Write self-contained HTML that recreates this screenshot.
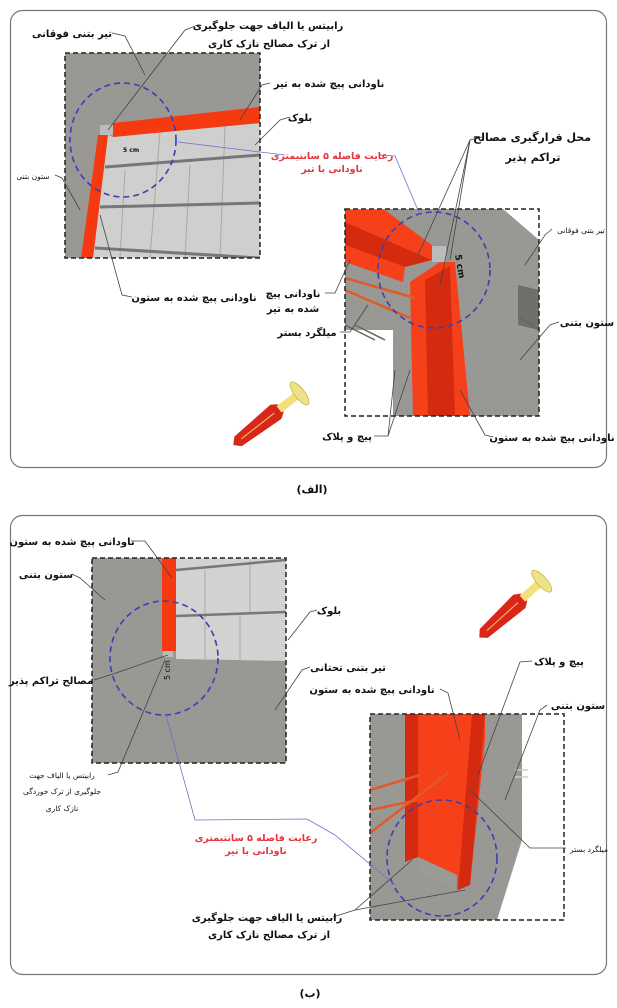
<!DOCTYPE html>
<html><head><meta charset="utf-8"><style>
html,body{margin:0;padding:0;background:#fff;}
svg{display:block;}
text{font-family:"DejaVu Sans","Liberation Sans",sans-serif;font-weight:bold;fill:#111;}
</style></head><body>
<svg width="617" height="1008" viewBox="0 0 617 1008" xmlns="http://www.w3.org/2000/svg">
<defs>
<filter id="nz" x="0" y="0" width="100%" height="100%" filterUnits="userSpaceOnUse">
<feTurbulence type="fractalNoise" baseFrequency="0.85" numOctaves="2" seed="3"/>
<feColorMatrix type="matrix" values="0 0 0 0 0.3  0 0 0 0 0.3  0 0 0 0 0.29  3.5 0 0 0 -1.55"/>
</filter>
<clipPath id="c1"><rect x="65" y="53" width="195" height="205"/></clipPath>
<clipPath id="c2"><polygon points="345,209 503,209 539,240 539,416 393,416 393,330 345,330"/></clipPath>
<clipPath id="c2b"><rect x="345" y="209" width="194" height="207"/></clipPath>
<clipPath id="c3"><rect x="92" y="558" width="194" height="205"/></clipPath>
<clipPath id="c4"><polygon points="370,714 522,714 522,840 497,920 370,920"/></clipPath>
<clipPath id="c4b"><rect x="370" y="714" width="194" height="206"/></clipPath>
</defs>

<rect x="10.5" y="10.5" width="596" height="457" rx="12" fill="#fff" stroke="#777" stroke-width="1.2"/>
<rect x="10.5" y="515.5" width="596" height="459" rx="12" fill="#fff" stroke="#777" stroke-width="1.2"/>

<!-- TOP LEFT BOX -->
<g clip-path="url(#c1)">
<rect x="65" y="53" width="195" height="205" fill="#9a9994"/>
<rect x="65" y="53" width="195" height="205" filter="url(#nz)"/>
<polygon points="108,135 113,137 260,123 260,258 93,258" fill="#cfcfcd"/>
<g stroke="#a9a9a7" stroke-width="1"><line x1="160" y1="132" x2="150" y2="258"/><line x1="225" y1="126" x2="220" y2="258"/><line x1="125" y1="170" x2="120" y2="258"/><line x1="190" y1="165" x2="185" y2="258"/></g>
<g stroke="#77777a" stroke-width="3"><line x1="105" y1="167" x2="260" y2="155"/><line x1="100" y1="207" x2="260" y2="203"/><line x1="95" y1="248" x2="260" y2="258"/></g>
<polygon points="113,123 260,107 260,123 113,137" fill="#f53a12"/>
<polygon points="98,135 108,135 93,258 81,258" fill="#f53a12"/>
<rect x="100" y="125" width="13" height="10" fill="#bbb"/>
<ellipse cx="123" cy="140" rx="53" ry="57" fill="none" stroke="#3a3fb5" stroke-width="1.6" stroke-dasharray="6,4"/>
<text x="123" y="152" font-size="6" font-family="Liberation Serif">5 cm</text>
</g>
<rect x="65" y="53" width="195" height="205" fill="none" stroke="#222" stroke-width="1.5" stroke-dasharray="5,3"/>

<!-- TOP RIGHT BOX -->
<g clip-path="url(#c2b)">
<rect x="345" y="209" width="194" height="207" fill="#fff"/>
<g clip-path="url(#c2)">
<rect x="345" y="209" width="194" height="207" fill="#9a9994"/>
<rect x="345" y="209" width="194" height="207" filter="url(#nz)"/>
</g>
<polygon points="518,285 539,290 539,330 518,325" fill="#6f6e6a"/>
<polygon points="345,210 385,210 433,246 432,260 345,222" fill="#f5401a"/>
<polygon points="345,222 432,260 405,267 345,245" fill="#d42a10"/>
<polygon points="345,245 405,267 403,282 345,262" fill="#f5401a"/>
<polygon points="410,282 440,262 455,262 470,416 413,416" fill="#f5401a"/>
<polygon points="425,280 450,266 455,416 428,416" fill="#d42a10"/>
<rect x="432" y="246" width="14" height="16" fill="#bbb"/>
<g stroke="#e05a2a" stroke-width="2.5"><line x1="345" y1="278" x2="415" y2="298"/><line x1="345" y1="290" x2="410" y2="318"/></g>
<g stroke="#666" stroke-width="1.5"><line x1="345" y1="325" x2="375" y2="340"/><line x1="355" y1="325" x2="385" y2="340"/><line x1="520" y1="318" x2="539" y2="330"/></g>
<ellipse cx="434" cy="270" rx="56" ry="58" fill="none" stroke="#3a3fb5" stroke-width="1.6" stroke-dasharray="6,4"/>
<text x="455" y="255" font-size="9" transform="rotate(80 455 255)">5 cm</text>
</g>
<rect x="345" y="209" width="194" height="207" fill="none" stroke="#222" stroke-width="1.5" stroke-dasharray="5,3"/>

<g transform="translate(268,418) rotate(-38)">
<polygon points="-38,-6 10,-9 16,-5 16,5 10,9 -38,6 -44,0" fill="#d8261a"/>
<line x1="-34" y1="0" x2="8" y2="0" stroke="#f3c46a" stroke-width="1"/>
<rect x="14" y="-4" width="22" height="8" fill="#f2e07a"/>
<ellipse cx="40" cy="0" rx="5" ry="14" fill="#efe18a" stroke="#c8b640" stroke-width="0.8"/>
</g>

<g stroke="#444" stroke-width="0.8" fill="none">
<polyline points="112,33 125,36 145,75"/>
<polyline points="198,25 185,30 108,130"/>
<polyline points="270,83 262,85 240,120"/>
<polyline points="290,117 280,120 255,145"/>
<polyline points="55,175 62,178 80,210"/>
<polyline points="132,297 122,295 100,215"/>
<polyline points="482,137 470,140 418,255"/>
<polyline points="470,140 450,260"/>
<polyline points="470,140 440,285"/>
<polyline points="552,229 545,235 525,265"/>
<polyline points="559,322 550,325 520,360"/>
<polyline points="325,293 335,293 350,260"/>
<polyline points="340,332 350,332 368,305"/>
<polyline points="374,436 388,436 410,370"/>
<polyline points="388,436 395,370"/>
<polyline points="493,437 485,435 460,390"/>
</g>
<polyline points="178,142 260,152 285,155" stroke="#6b72c8" stroke-width="0.8" fill="none"/>
<polyline points="380,155 395,156 420,215" stroke="#6b72c8" stroke-width="0.8" fill="none"/>

<text x="72" y="37" font-size="10" text-anchor="middle">تیر بتنی فوقانی</text>
<text x="268" y="29" font-size="10" text-anchor="middle">رابیتس یا الیاف جهت جلوگیری</text>
<text x="269" y="47" font-size="10" text-anchor="middle">از ترک مصالح نازک کاری</text>
<text x="329" y="87" font-size="10" text-anchor="middle">ناودانی پیچ شده به تیر</text>
<text x="300" y="121" font-size="10" text-anchor="middle">بلوک</text>
<text x="332" y="159" font-size="9.5" text-anchor="middle" style="fill:#e8333a">رعایت فاصله ۵ سانتیمتری</text>
<text x="332" y="172" font-size="9.5" text-anchor="middle" style="fill:#e8333a">ناودانی با تیر</text>
<text x="532" y="141" font-size="11" text-anchor="middle">محل قرارگیری مصالح</text>
<text x="533" y="161" font-size="11" text-anchor="middle">تراکم پذیر</text>
<text x="33" y="179" font-size="7.5" text-anchor="middle" style="font-weight:normal">ستون بتنی</text>
<text x="581" y="233" font-size="7.5" text-anchor="middle" style="font-weight:normal">تیر بتنی فوقانی</text>
<text x="293" y="297" font-size="10" text-anchor="middle">ناودانی پیچ</text>
<text x="293" y="312" font-size="10" text-anchor="middle">شده به تیر</text>
<text x="307" y="336" font-size="10" text-anchor="middle">میلگرد بستر</text>
<text x="587" y="326" font-size="10" text-anchor="middle">ستون بتنی</text>
<text x="194" y="301" font-size="10" text-anchor="middle">ناودانی پیچ شده به ستون</text>
<text x="347" y="440" font-size="10" text-anchor="middle">پیچ و پلاک</text>
<text x="552" y="441" font-size="10" text-anchor="middle">ناودانی پیچ شده به ستون</text>
<text x="312" y="493" font-size="11" text-anchor="middle">(الف)</text>

<!-- BOTTOM LEFT BOX -->
<g clip-path="url(#c3)">
<rect x="92" y="558" width="194" height="205" fill="#9a9994"/>
<rect x="92" y="558" width="194" height="205" filter="url(#nz)"/>
<polygon points="176,558 286,558 286,661 176,659" fill="#d2d2d0"/>
<g stroke="#a9a9a7" stroke-width="1"><line x1="205" y1="570" x2="205" y2="659"/><line x1="240" y1="615" x2="240" y2="660"/><line x1="250" y1="560" x2="250" y2="612"/></g>
<g stroke="#77777a" stroke-width="2.5"><line x1="176" y1="570" x2="286" y2="560"/><line x1="176" y1="616" x2="286" y2="612"/></g>
<rect x="162" y="558" width="14" height="93" fill="#f53a12"/>
<rect x="163" y="651" width="10" height="6" fill="#bbb"/>
<ellipse cx="164" cy="658" rx="54" ry="57" fill="none" stroke="#3a3fb5" stroke-width="1.6" stroke-dasharray="6,4"/>
<text x="185" y="665" font-size="8" transform="rotate(-90 185 680)" style="font-weight:normal">5 cm</text>
</g>
<rect x="92" y="558" width="194" height="205" fill="none" stroke="#222" stroke-width="1.5" stroke-dasharray="5,3"/>

<!-- BOTTOM RIGHT BOX -->
<g clip-path="url(#c4b)">
<rect x="370" y="714" width="194" height="206" fill="#fff"/>
<g clip-path="url(#c4)">
<rect x="370" y="714" width="194" height="206" fill="#9a9994"/>
<rect x="370" y="714" width="194" height="206" filter="url(#nz)"/>
</g>
<polygon points="405,714 485,714 485,740 470,885 457,890 457,875 418,857 405,857" fill="#f5401a"/>
<polygon points="405,714 418,714 418,857 405,862" fill="#d42a10"/>
<polygon points="472,714 485,714 470,885 458,890" fill="#d42a10"/>
<polygon points="418,857 457,875 457,890 418,872" fill="#9a9a96"/>
<g stroke="#e05a2a" stroke-width="2.5"><line x1="370" y1="790" x2="420" y2="775"/><line x1="370" y1="810" x2="418" y2="800"/><line x1="370" y1="833" x2="448" y2="773"/></g>
<g stroke="#ccc" stroke-width="1.5"><line x1="515" y1="770" x2="528" y2="770"/><line x1="515" y1="777" x2="528" y2="777"/></g>
<ellipse cx="442" cy="858" rx="55" ry="58" fill="none" stroke="#3a3fb5" stroke-width="1.6" stroke-dasharray="6,4"/>
</g>
<rect x="370" y="714" width="194" height="206" fill="none" stroke="#222" stroke-width="1.5" stroke-dasharray="5,3"/>

<g transform="translate(512,608) rotate(-42)">
<polygon points="-38,-6 10,-9 16,-5 16,5 10,9 -38,6 -44,0" fill="#d8261a"/>
<line x1="-34" y1="0" x2="8" y2="0" stroke="#f3c46a" stroke-width="1"/>
<rect x="14" y="-4" width="22" height="8" fill="#f2e07a"/>
<ellipse cx="40" cy="0" rx="5" ry="14" fill="#efe18a" stroke="#c8b640" stroke-width="0.8"/>
</g>

<g stroke="#444" stroke-width="0.8" fill="none">
<polyline points="131,541 145,541 172,578"/>
<polyline points="72,574 80,578 105,600"/>
<polyline points="317,610 310,612 288,640"/>
<polyline points="310,667 302,670 275,710"/>
<polyline points="94,680 110,675 168,655"/>
<polyline points="108,775 118,772 165,660"/>
<polyline points="532,661 520,662 478,775"/>
<polyline points="440,689 448,693 460,740"/>
<polyline points="547,705 540,710 505,800"/>
<polyline points="566,848 530,848 470,790"/>
<polyline points="333,917 355,910 412,860"/>
<polyline points="355,910 465,890"/>
</g>
<polyline points="166,715 195,820 307,819 335,835 395,885" stroke="#6b72c8" stroke-width="0.8" fill="none"/>

<text x="72" y="545" font-size="10" text-anchor="middle">ناودانی پیچ شده به ستون</text>
<text x="46" y="578" font-size="10" text-anchor="middle">ستون بتنی</text>
<text x="329" y="614" font-size="10" text-anchor="middle">بلوک</text>
<text x="348" y="671" font-size="10" text-anchor="middle">تیر بتنی تحتانی</text>
<text x="51" y="684" font-size="10" text-anchor="middle">مصالح تراکم پذیر</text>
<text x="559" y="665" font-size="10" text-anchor="middle">پیچ و پلاک</text>
<text x="372" y="693" font-size="10" text-anchor="middle">ناودانی پیچ شده به ستون</text>
<text x="578" y="709" font-size="10" text-anchor="middle">ستون بتنی</text>
<text x="62" y="778" font-size="7.5" text-anchor="middle" style="font-weight:normal">رابیتس یا الیاف جهت</text>
<text x="62" y="794" font-size="7.5" text-anchor="middle" style="font-weight:normal">جلوگیری از ترک خوردگی</text>
<text x="62" y="811" font-size="7.5" text-anchor="middle" style="font-weight:normal">نازک کاری</text>
<text x="256" y="841" font-size="9.5" text-anchor="middle" style="fill:#e8333a">رعایت فاصله ۵ سانتیمتری</text>
<text x="256" y="854" font-size="9.5" text-anchor="middle" style="fill:#e8333a">ناودانی با تیر</text>
<text x="589" y="852" font-size="7.5" text-anchor="middle" style="font-weight:normal">میلگرد بستر</text>
<text x="267" y="921" font-size="10" text-anchor="middle">رابیتس یا الیاف جهت جلوگیری</text>
<text x="269" y="938" font-size="10" text-anchor="middle">از ترک مصالح نازک کاری</text>
<text x="310" y="997" font-size="11" text-anchor="middle">(ب)</text>
</svg>
</body></html>
